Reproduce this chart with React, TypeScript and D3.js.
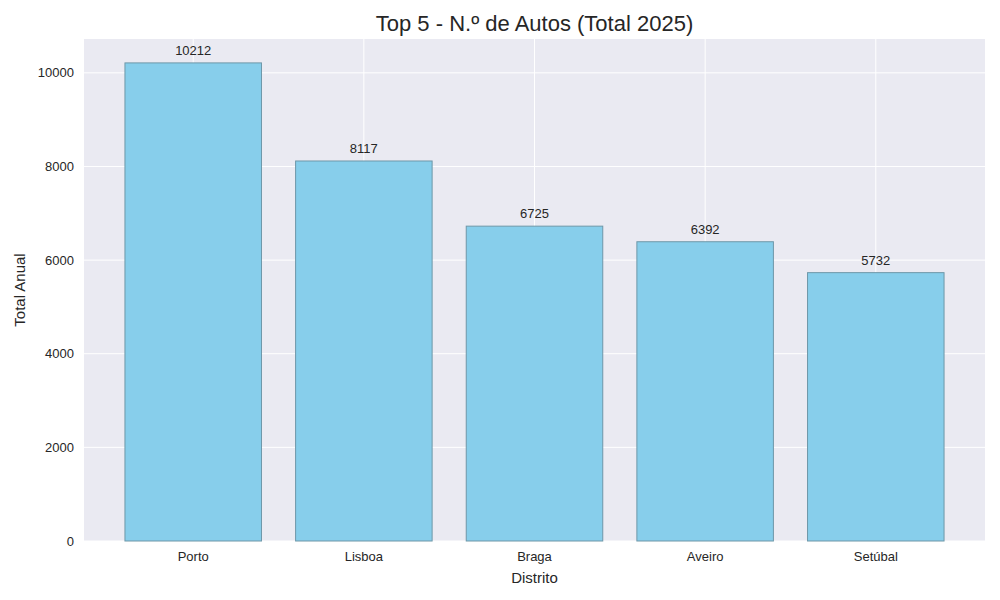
import React from 'react';
import * as d3 from 'd3';

const distritos = ['Porto', 'Lisboa', 'Braga', 'Aveiro', 'Setúbal'];
const totais = [10212, 8117, 6725, 6392, 5732];
const yTicks = [0, 2000, 4000, 6000, 8000, 10000];

const W = 1000;
const H = 600;
const margin = { top: 39, right: 15, bottom: 59, left: 84 };
const font = '"Liberation Sans", Arial, sans-serif';

const App: React.FC = () => {
  const innerW = W - margin.left - margin.right;
  const innerH = H - margin.top - margin.bottom;

  // matplotlib-like margins: bars span -0.4..4.4, plus 5% padding
  const span = distritos.length - 1 + 0.8;
  const pad = span * 0.05;
  const x = d3.scaleLinear()
    .domain([-0.4 - pad, distritos.length - 1 + 0.4 + pad])
    .range([0, innerW]);

  const yMax = (d3.max(totais) || 0) * 1.05;
  const y = d3.scaleLinear().domain([0, yMax]).range([innerH, 0]);

  const barW = x(0.8) - x(0);

  return (
    <svg width={W} height={H} style={{ position: 'absolute', left: 0, top: 0, background: '#fff' }}>
      <g transform={`translate(${margin.left},${margin.top})`} fontFamily={font}>
        <rect width={innerW} height={innerH} fill="#EAEAF2" />
        {yTicks.map(t => (
          <line key={'gy' + t} x1={0} x2={innerW} y1={y(t)} y2={y(t)} stroke="#fff" strokeWidth={1} />
        ))}
        {distritos.map((d, i) => (
          <line key={'gx' + d} x1={x(i)} x2={x(i)} y1={0} y2={innerH} stroke="#fff" strokeWidth={1} />
        ))}
        {distritos.map((d, i) => (
          <g key={d}>
            <rect
              x={x(i) - barW / 2}
              y={y(totais[i])}
              width={barW}
              height={innerH - y(totais[i])}
              fill="#87CEEB"
              stroke="#6e97a8"
              strokeWidth={1}
            />
            <text x={x(i)} y={y(totais[i]) - 8} textAnchor="middle" fontSize={13} fill="#262626">
              {totais[i]}
            </text>
            <text x={x(i)} y={innerH + 20} textAnchor="middle" fontSize={13} fill="#262626">
              {d}
            </text>
          </g>
        ))}
        {yTicks.map(t => (
          <text key={'ty' + t} x={-10} y={y(t)} dy="0.35em" textAnchor="end" fontSize={13} fill="#262626">
            {t}
          </text>
        ))}
        <text x={innerW / 2} y={innerH + 42} textAnchor="middle" fontSize={15} fill="#262626">
          Distrito
        </text>
        <text
          transform={`translate(${-59},${innerH / 2}) rotate(-90)`}
          textAnchor="middle"
          fontSize={15}
          fill="#262626"
        >
          Total Anual
        </text>
        <text x={innerW / 2} y={-8} textAnchor="middle" fontSize={22} fill="#262626">
          Top 5 - N.º de Autos (Total 2025)
        </text>
      </g>
    </svg>
  );
};

export default App;
